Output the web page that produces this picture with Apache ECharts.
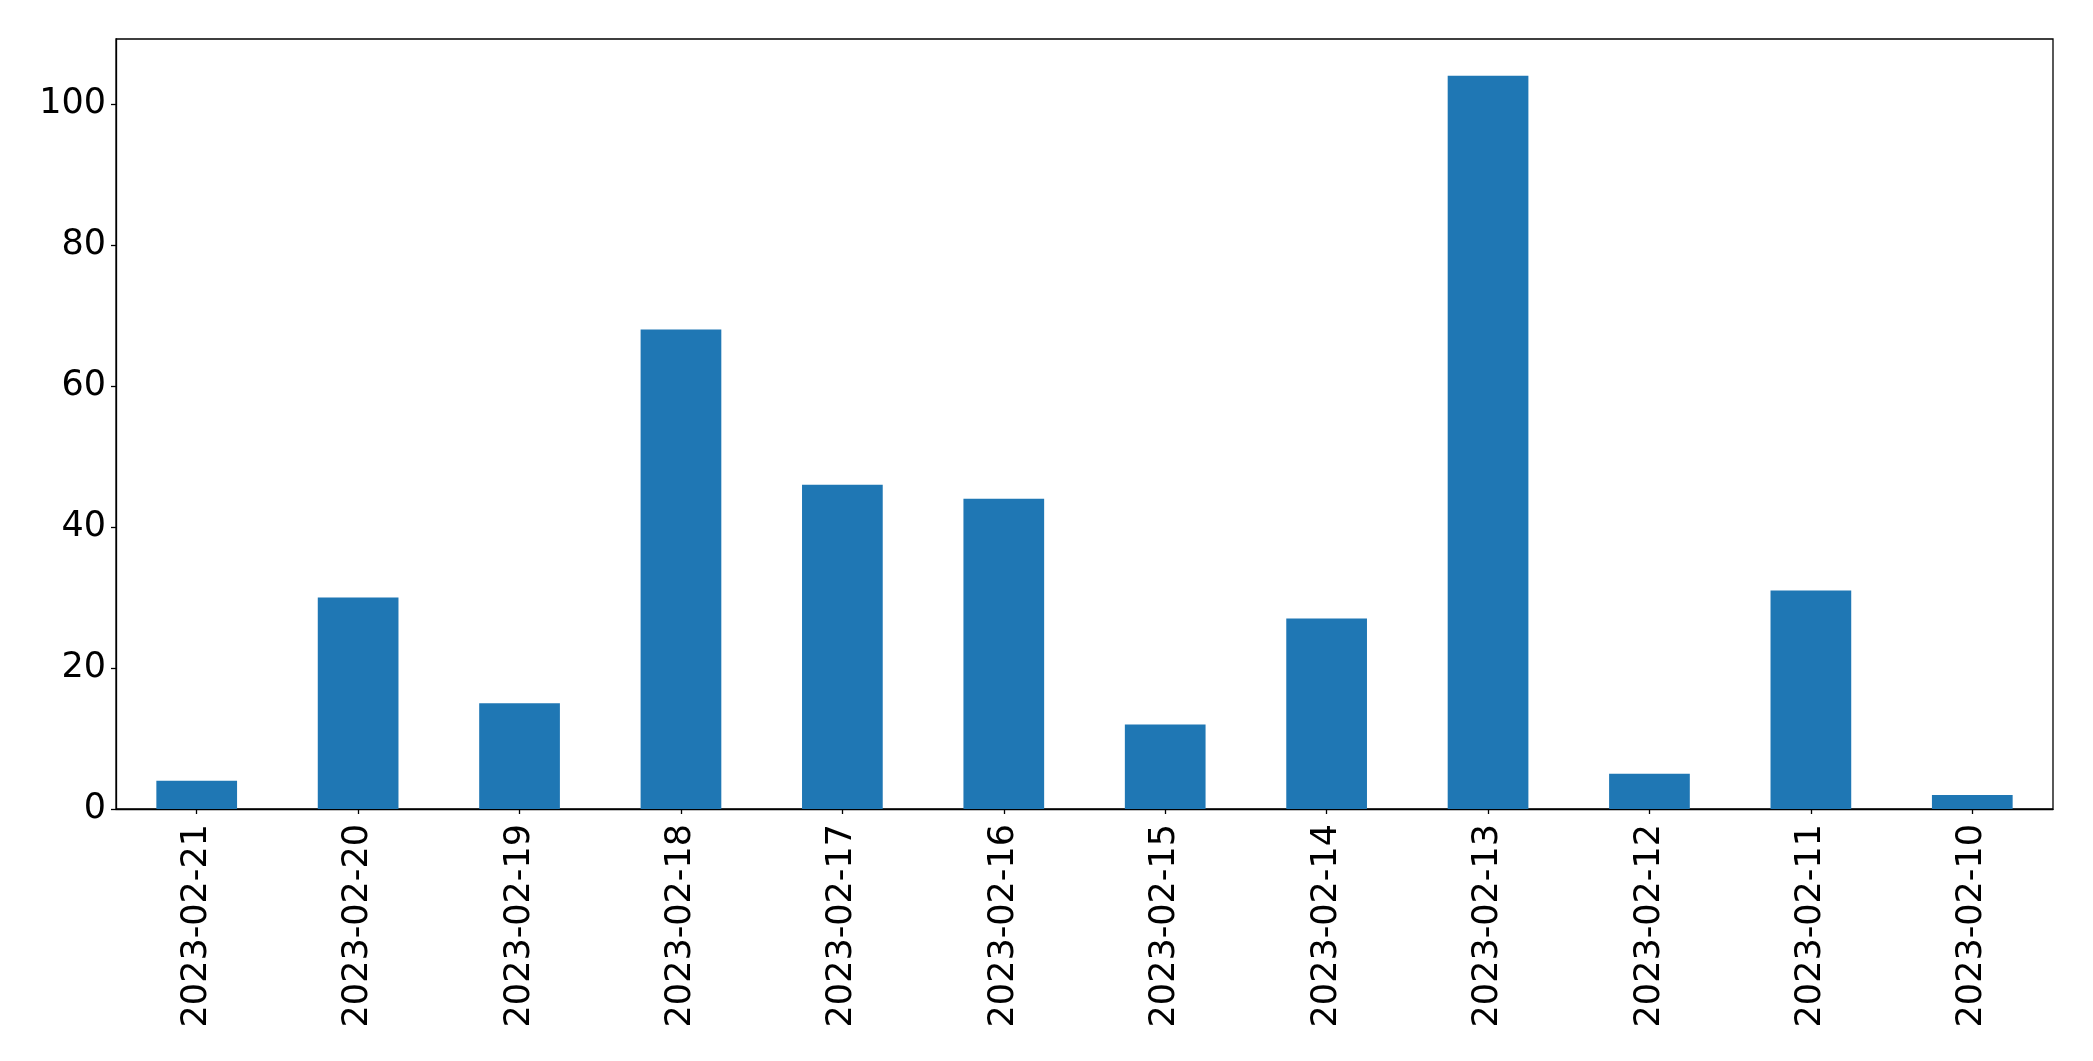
<!DOCTYPE html>
<html><head><meta charset="utf-8">
<script src="https://cdn.jsdelivr.net/npm/echarts@6/dist/echarts.min.js"></script>
<style>html,body{margin:0;padding:0;background:#fff}#c{width:2093px;height:1061px}</style>
</head><body><div id="c"></div>
<script>
const categories = ["2023-02-21","2023-02-20","2023-02-19","2023-02-18","2023-02-17","2023-02-16","2023-02-15","2023-02-14","2023-02-13","2023-02-12","2023-02-11","2023-02-10"];
const values = [4, 30, 15, 68, 46, 44, 12, 27, 104, 5, 31, 2];
const yTicks = [0, 20, 40, 60, 80, 100];

const chart = echarts.init(document.getElementById('c'), null, {renderer: 'canvas'});
const font = 'DejaVu Sans';
chart.setOption({
  animation: false,
  backgroundColor: '#fff',
  grid: {left: 116, right: 40, top: 39, bottom: 252, show: true, borderColor: '#000', borderWidth: 1.3, containLabel: false},
  xAxis: {
    type: 'category', data: categories,
    axisLine: {show: true, lineStyle: {color: '#000', width: 1.3}},
    axisTick: {show: true, alignWithLabel: true, length: 5, lineStyle: {color: '#000', width: 1.3}},
    axisLabel: {rotate: 90, margin: 15, color: '#000', fontSize: 35, fontFamily: font, interval: 0, padding: [5, 0, 0, 0]},
    splitLine: {show: false}
  },
  yAxis: {
    type: 'value', min: 0, max: 109.2, interval: 20,
    axisLine: {show: true, lineStyle: {color: '#000', width: 1.3}},
    axisTick: {show: true, length: 5, lineStyle: {color: '#000', width: 1.3}},
    axisLabel: {margin: 10, color: '#000', fontSize: 35, fontFamily: font, showMaxLabel: false,
      formatter: v => yTicks.includes(v) ? String(v) : ''},
    splitLine: {show: false}
  },
  series: [{
    type: 'bar', data: values, barWidth: '50%',
    itemStyle: {color: '#1f77b4'}
  }]
});
</script></body></html>
